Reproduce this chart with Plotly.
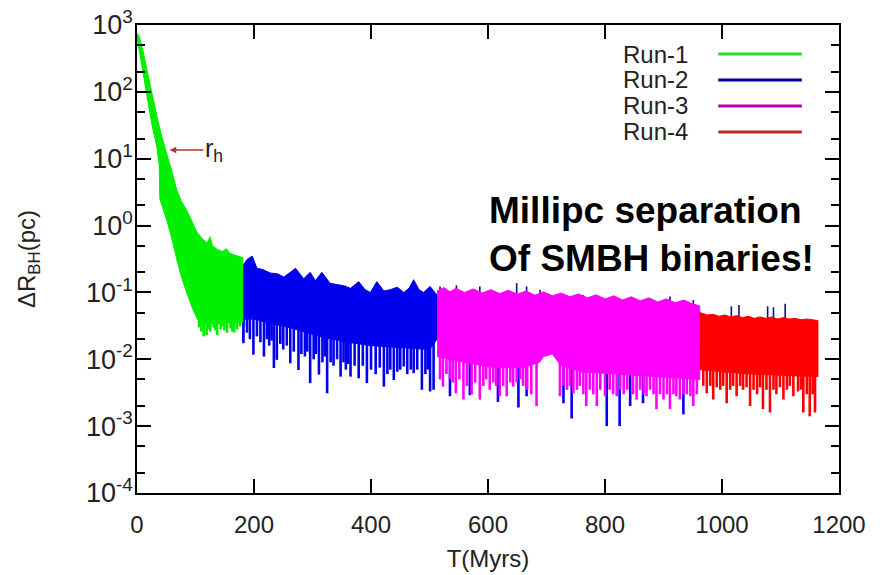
import plotly.graph_objects as go

# ---------------- data ----------------
# Run-1 band: upper and lower envelopes (T in Myr, dR in pc)
r1_up_t = [0, 3, 10, 17, 25, 34, 42, 51, 60, 68, 76, 85, 94, 103, 112, 120, 125, 129, 137, 146, 153, 158, 164, 172, 181]
r1_up_r = [750, 700, 420, 214, 100, 43, 22, 12.3, 6.3, 3.4, 2.3, 1.7, 1.15, 0.78, 0.63, 0.55, 0.68, 0.5, 0.44, 0.41, 0.45, 0.39, 0.37, 0.35, 0.33]
r1_lo_t = [0, 3, 10, 17, 25, 34, 38, 39, 45, 51, 60, 68, 76, 85, 94, 103, 112, 125, 140, 155, 170, 181]
r1_lo_r = [650, 475, 190, 86, 34, 15, 8, 2.5, 1.7, 1.2, 0.62, 0.31, 0.17, 0.1, 0.06, 0.04, 0.034, 0.034, 0.034, 0.035, 0.036, 0.036]
r1_sp_t = [106, 110, 114, 119, 122, 125, 131, 134, 137, 143, 146, 149, 154, 160, 163, 166, 171, 176]
r1_sp_top = [0.04, 0.04, 0.04, 0.04, 0.04, 0.04, 0.04, 0.04, 0.04, 0.04, 0.04, 0.04, 0.04, 0.04, 0.04, 0.04, 0.04, 0.04]
r1_sp_bot = [0.03, 0.026, 0.022, 0.023, 0.028, 0.026, 0.03, 0.027, 0.023, 0.028, 0.031, 0.027, 0.025, 0.029, 0.026, 0.025, 0.028, 0.031]

# Run-2 band (continues underneath Run-3)
r2_up_t = [180, 188, 197, 205, 215, 228, 240, 251, 262, 271, 285, 296, 305, 316, 330, 342, 355, 365, 379, 390,
           399, 410, 422, 433, 445, 456, 465, 473, 482, 490, 501, 513, 530, 600, 700, 800, 900, 962]
r2_up_r = [0.245, 0.31, 0.35, 0.23, 0.22, 0.195, 0.19, 0.17, 0.2, 0.23, 0.16, 0.2, 0.15, 0.2, 0.137, 0.13, 0.125, 0.115, 0.145, 0.11,
           0.1, 0.145, 0.105, 0.11, 0.12, 0.1, 0.115, 0.155, 0.11, 0.1, 0.123, 0.091, 0.08, 0.075, 0.068, 0.062, 0.056, 0.052]
r2_lo_t = [180, 184, 200, 230, 260, 290, 320, 360, 400, 450, 500, 513, 600, 700, 800, 900, 962]
r2_lo_r = [0.019, 0.04, 0.04, 0.034, 0.03, 0.025, 0.021, 0.018, 0.016, 0.015, 0.014, 0.02, 0.02, 0.02, 0.02, 0.02, 0.02]
r2_sp_t = [182, 188, 193, 199, 205, 211, 217, 222, 226, 230, 234, 239, 245, 250, 256, 262, 268, 276, 281, 287,
           291, 296, 302, 306, 311, 317, 321, 325, 331, 336, 342, 348, 353, 357, 361, 365, 372, 379, 386, 393,
           400, 408, 415, 422, 428, 433, 439, 445, 450, 456, 462, 468, 473, 479, 487, 493, 497, 501, 507,
           535, 569, 617, 652, 666, 729, 743, 803, 825, 843, 865, 934]
r2_sp_top = [0.06] * 59 + [0.02] * 12
r2_sp_bot = [0.0174, 0.025, 0.02, 0.0117, 0.022, 0.018, 0.011, 0.02, 0.016, 0.019, 0.0074, 0.0098, 0.017, 0.014, 0.016, 0.0087, 0.013, 0.0069, 0.012, 0.011,
             0.013, 0.0044, 0.01, 0.012, 0.0059, 0.009, 0.011, 0.0031, 0.009, 0.008, 0.01, 0.0055, 0.009, 0.007, 0.0085, 0.0055, 0.008, 0.0052, 0.008, 0.0044,
             0.007, 0.006, 0.0075, 0.0039, 0.006, 0.007, 0.0049, 0.0065, 0.007, 0.0078, 0.006, 0.007, 0.0062, 0.007, 0.0035, 0.006, 0.007, 0.0033, 0.0035,
             0.0028, 0.0029, 0.0023, 0.0019, 0.0028, 0.0022, 0.0013, 0.001, 0.001, 0.002, 0.0022, 0.0015]
r2_tip_t = [518, 546, 586, 649, 666, 689, 763, 786, 820, 837, 854, 911, 951, 1016, 1029, 1078, 1088, 1108]
r2_tip_lo = [0.05, 0.05, 0.05, 0.05, 0.05, 0.05, 0.04, 0.04, 0.04, 0.04, 0.04, 0.04, 0.04, 0.03, 0.03, 0.03, 0.03, 0.03]
r2_tip_hi = [0.123, 0.128, 0.123, 0.138, 0.123, 0.11, 0.091, 0.087, 0.082, 0.082, 0.077, 0.087, 0.077, 0.062, 0.065, 0.062, 0.06, 0.068]

# Run-3 band
r3_up_t = [513, 525, 535, 545, 560, 575, 590, 605, 620, 635, 650, 665, 680, 695, 710, 725, 740, 755, 770, 785,
           800, 815, 830, 845, 860, 875, 890, 905, 920, 935, 950, 962]
r3_up_r = [0.105, 0.118, 0.102, 0.115, 0.1, 0.113, 0.098, 0.11, 0.096, 0.108, 0.094, 0.105, 0.091, 0.102, 0.089, 0.098, 0.086, 0.095, 0.083, 0.092,
           0.08, 0.089, 0.077, 0.086, 0.075, 0.083, 0.072, 0.08, 0.07, 0.077, 0.067, 0.063]
r3_lo_t = [513, 560, 610, 660, 688, 695, 710, 725, 760, 820, 880, 962]
r3_lo_r = [0.011, 0.009, 0.0075, 0.0075, 0.009, 0.011, 0.012, 0.008, 0.0065, 0.006, 0.0055, 0.005]
r3_sp_t = [518, 523, 529, 535, 540, 545, 551, 558, 564, 572, 578, 586, 592, 597, 603, 609, 614, 620, 626, 632,
           638, 643, 649, 655, 660, 667, 674, 683, 723, 729, 735, 740, 746, 752, 757, 763, 768, 774, 780, 786,
           792, 800, 808, 814, 820, 826, 832, 838, 848, 854, 860, 866, 871, 877, 883, 888, 894, 900, 906, 911,
           917, 922, 928, 934, 940, 946, 951, 957]
r3_sp_top = [0.012] * 68
r3_sp_bot = [0.005, 0.0039, 0.006, 0.005, 0.0045, 0.0031, 0.005, 0.0025, 0.004, 0.003, 0.0045, 0.0025, 0.004, 0.005, 0.0035, 0.0045, 0.004, 0.0028, 0.004, 0.0028,
             0.0045, 0.0039, 0.0045, 0.005, 0.004, 0.0035, 0.003, 0.002, 0.0028, 0.004, 0.0035, 0.004, 0.0031, 0.0035, 0.004, 0.003, 0.002, 0.0035, 0.003, 0.002,
             0.0035, 0.0028, 0.0035, 0.003, 0.0028, 0.0035, 0.003, 0.0035, 0.003, 0.0025, 0.0035, 0.003, 0.0028, 0.0035, 0.003, 0.0018, 0.003, 0.0025, 0.003, 0.0018,
             0.003, 0.0028, 0.0025, 0.003, 0.003, 0.0028, 0.002, 0.003]

# Run-4 band
r4_up_t = [962, 968, 975, 985, 995, 1005, 1015, 1025, 1035, 1045, 1055, 1065, 1075, 1085, 1095, 1105, 1115, 1125, 1135, 1145, 1155, 1164]
r4_up_r = [0.05, 0.048, 0.046, 0.047, 0.044, 0.046, 0.043, 0.045, 0.042, 0.044, 0.041, 0.043, 0.041, 0.043, 0.04, 0.042, 0.04, 0.041, 0.039, 0.04, 0.039, 0.038]
r4_lo_t = [962, 1000, 1050, 1100, 1164]
r4_lo_r = [0.007, 0.0065, 0.006, 0.0058, 0.0055]
r4_sp_t = [968, 974, 980, 985, 991, 997, 1002, 1008, 1014, 1019, 1025, 1031, 1036, 1042, 1048, 1054, 1060, 1065, 1070, 1076,
           1082, 1088, 1093, 1099, 1105, 1111, 1116, 1122, 1130, 1135, 1139, 1145, 1150, 1155, 1159]
r4_sp_top = [0.008] * 35
r4_sp_bot = [0.004, 0.0031, 0.004, 0.0025, 0.0038, 0.0035, 0.004, 0.0022, 0.0035, 0.004, 0.0028, 0.004, 0.0035, 0.0038, 0.002, 0.0035, 0.003, 0.0038, 0.0018, 0.0035,
             0.0016, 0.0035, 0.003, 0.0038, 0.0025, 0.0035, 0.004, 0.0028, 0.0033, 0.0035, 0.0016, 0.003, 0.0014, 0.003, 0.0016]

run_names = ["Run-1", "Run-2", "Run-3", "Run-4"]
run_colors = ["#00f000", "#0000ee", "#ff00ff", "#ff0000"]
legend_colors = ["#20e020", "#000099", "#b000b0", "#c02828"]

y_tick_vals = [1e-4, 1e-3, 1e-2, 1e-1, 1e0, 1e1, 1e2, 1e3]
y_tick_text = ["10<sup>-4</sup>", "10<sup>-3</sup>", "10<sup>-2</sup>", "10<sup>-1</sup>",
               "10<sup>0</sup>", "10<sup>1</sup>", "10<sup>2</sup>", "10<sup>3</sup>"]
y_minor_vals = [m * d for d in [1e-4, 1e-3, 1e-2, 1e-1, 1e0, 1e1, 1e2] for m in (2, 5)]
x_tick_vals = [0, 200, 400, 600, 800, 1000, 1200]

FONT = "Liberation Sans, Arial, Helvetica, sans-serif"


def band(t_up, r_up, t_lo, r_lo, color):
    return go.Scatter(x=t_up + t_lo[::-1], y=r_up + r_lo[::-1], mode="lines", fill="toself",
                      fillcolor=color, line=dict(color=color, width=1), showlegend=False,
                      hoverinfo="skip")


def spikes(ts, a, b, color, width=2.6):
    xs, ys = [], []
    for t, y0, y1 in zip(ts, a, b):
        xs += [t, t, None]
        ys += [y0, y1, None]
    return go.Scatter(x=xs, y=ys, mode="lines", line=dict(color=color, width=width),
                      showlegend=False, hoverinfo="skip")


fig = go.Figure()
c1, c2, c3, c4 = run_colors
fig.add_trace(band(r2_up_t, r2_up_r, r2_lo_t, r2_lo_r, c2))
fig.add_trace(spikes(r2_sp_t, r2_sp_top, r2_sp_bot, c2))
fig.add_trace(spikes(r2_tip_t, r2_tip_lo, r2_tip_hi, "#10108a", 1.6))
fig.add_trace(band(r1_up_t, r1_up_r, r1_lo_t, r1_lo_r, c1))
fig.add_trace(spikes(r1_sp_t, r1_sp_top, r1_sp_bot, c1))
fig.add_trace(band(r3_up_t, r3_up_r, r3_lo_t, r3_lo_r, c3))
fig.add_trace(spikes(r3_sp_t, r3_sp_top, r3_sp_bot, c3))
fig.add_trace(band(r4_up_t, r4_up_r, r4_lo_t, r4_lo_r, c4))
fig.add_trace(spikes(r4_sp_t, r4_sp_top, r4_sp_bot, c4))

annotations = []
# legend drawn gnuplot-style: text right aligned, line sample on the right
for i, (name, col) in enumerate(zip(run_names, legend_colors)):
    yp = 0.938 - i * 0.0555
    annotations.append(dict(x=0.788, y=yp, xref="paper", yref="paper", text=name, showarrow=False,
                            xanchor="right", yanchor="middle", font=dict(family=FONT, size=24, color="#222")))
    fig.add_shape(type="line", xref="paper", yref="paper", x0=0.828, x1=0.947, y0=yp, y1=yp,
                  line=dict(color=col, width=3))

annotations.append(dict(x=0.4986, y=0.553, xref="paper", yref="paper",
                        text="<b>Millipc separation<br>Of SMBH binaries!</b>", showarrow=False,
                        xanchor="left", yanchor="middle", align="left",
                        font=dict(family=FONT, size=37, color="black")))

annotations.append(dict(x=56, y=1.13, xref="x", yref="y", text="r<sub>h</sub>", showarrow=True,
                        ax=44, ay=0, arrowhead=2, arrowsize=1, arrowwidth=1.3, arrowcolor="#b83030",
                        font=dict(family=FONT, size=25, color="#222")))

fig.update_layout(
    width=885, height=575,
    margin=dict(l=137, r=46, t=25, b=82, autoexpand=False),
    paper_bgcolor="white", plot_bgcolor="white",
    showlegend=False,
    annotations=annotations,
    font=dict(family=FONT, size=22, color="#222"),
)
fig.update_xaxes(range=[0, 1200], tickvals=x_tick_vals, ticks="inside", ticklen=14, tickwidth=1.5,
                 tickcolor="black", showline=True, linecolor="black", linewidth=1.5, mirror="allticks",
                 showgrid=False, zeroline=False, tickfont=dict(family=FONT, size=24, color="#222"),
                 ticklabelstandoff=9, automargin=False,
                 title=dict(text="T(Myrs)", font=dict(family=FONT, size=24, color="#222"), standoff=14))
fig.update_yaxes(type="log", range=[-4, 3], tickvals=y_tick_vals, ticktext=y_tick_text,
                 ticks="inside", ticklen=14, tickwidth=1.5, tickcolor="black",
                 minor=dict(tickvals=y_minor_vals, ticks="inside", ticklen=8, tickwidth=1.5, tickcolor="black"),
                 showline=True, linecolor="black", linewidth=1.5, mirror="allticks",
                 showgrid=False, zeroline=False, tickfont=dict(family=FONT, size=27, color="#222"),
                 ticklabelstandoff=-3, automargin=False,
                 title=dict(text="ΔR<sub>BH</sub>(pc)", font=dict(family=FONT, size=24, color="#222"), standoff=44))

fig.write_html("out.html")
